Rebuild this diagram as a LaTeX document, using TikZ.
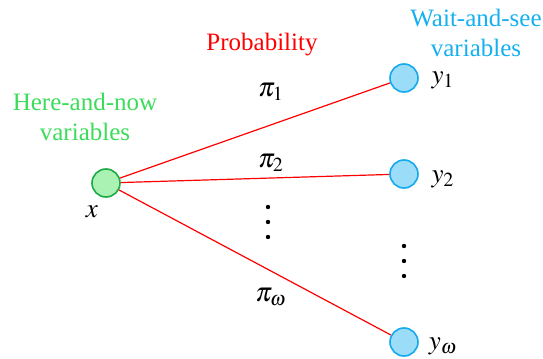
\documentclass[tikz,border=0pt]{standalone}
\usepackage{mathptmx}
\usepackage[no-math]{fontspec}
\setmainfont{Liberation Serif}
\definecolor{hnGreen}{RGB}{60,220,90}
\definecolor{hnFill}{RGB}{170,242,180}
\definecolor{hnLine}{RGB}{30,170,70}
\definecolor{wsBlue}{RGB}{20,176,240}
\definecolor{wsFill}{RGB}{155,220,248}
\definecolor{wsLine}{RGB}{20,170,235}
\begin{document}
\begin{tikzpicture}[
	x=0.5pt, y=-0.5pt,
	every node/.style={ font=\fontsize{12.5}{15}\selectfont },
	mathlabel/.style={ font=\fontsize{13.5}{16}\selectfont },
	here/.style={ circle, draw=hnLine, thick, fill=hnFill, inner sep=0pt, minimum size=14pt },
	wait/.style={ circle, draw=wsLine, thick, fill=wsFill, inner sep=0pt, minimum size=14pt },
	link/.style={ red, semithick },
	dot/.style={ circle, fill, inner sep=0pt, minimum size=2.2pt }
]
\useasboundingbox (0,0) rectangle (543,359);

\node at (106,183) (x) [here] {};
\node at (404,78) (yone) [wait] {};
\node at (404,174) (ytwo) [wait] {};
\node at (404,342) (yomega) [wait] {};

\node at (92,212) (xlabel) [mathlabel] {$x$};
\node at (443,80) (yonelabel) [mathlabel] {$y_1$};
\node at (443,179) (ytwolabel) [mathlabel] {$y_2$};
\node at (443,346) (yomegalabel) [mathlabel] {$y_\omega$};

\node at (85,117) (herelabel) [hnGreen, align=center] {Here-and-now\\variables};
\node at (476,33) (waitlabel) [wsBlue, align=center] {Wait-and-see\\variables};
\node at (262,45) (problabel) [red] {Probability};

\node at (271,92) (pione) [mathlabel] {$\pi_1$};
\node at (271,163) (pitwo) [mathlabel] {$\pi_2$};
\node at (271,297) (piomega) [mathlabel] {$\pi_\omega$};

\foreach \d in {207,222,237}
  \node at (268,\d) (ldot\d) [dot] {};
\foreach \d in {246,261,276}
  \node at (404,\d) (rdot\d) [dot] {};

\foreach \p in {yone,ytwo,yomega}
  \draw[link] (x) to (\p);

\end{tikzpicture}
\end{document}
